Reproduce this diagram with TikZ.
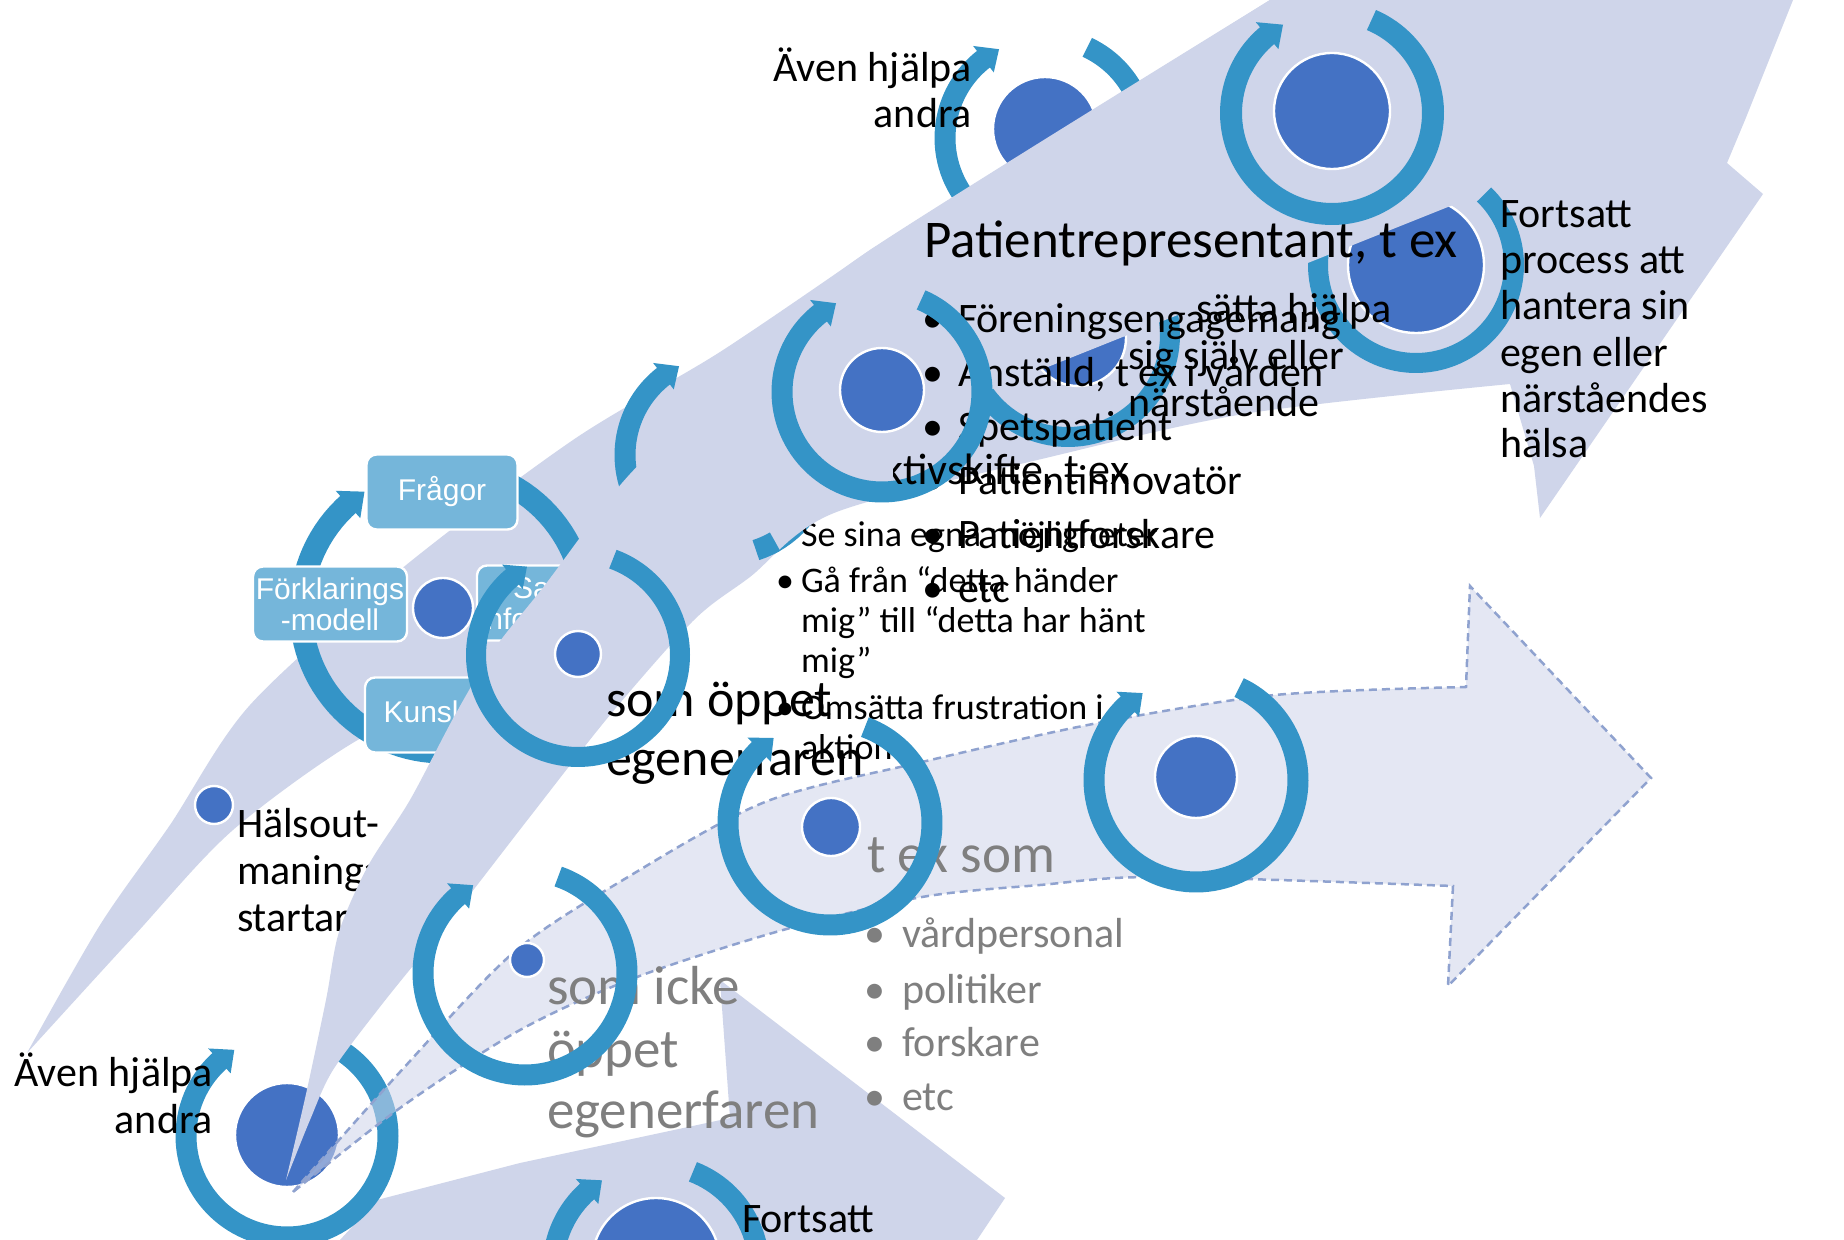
\documentclass[tikz,border=0pt]{standalone}
\usepackage{fontspec}
\setmainfont{Carlito}
\newfontfamily\arialf{Liberation Sans}
\definecolor{lav}{HTML}{CFD5EA}
\definecolor{ringc}{HTML}{3494C7}
\definecolor{circc}{HTML}{4472C4}
\definecolor{boxc}{HTML}{75B6DA}
\definecolor{dashc}{HTML}{8FA2CF}
\definecolor{grayt}{HTML}{7F7F7F}
\newcommand\szA{\fontsize{21}{25}\selectfont}
\newcommand\szB{\fontsize{26.5}{31}\selectfont}
\newcommand\szC{\fontsize{18}{21}\selectfont}
\newcommand\szD{\fontsize{27.5}{32}\selectfont}
\newcommand\szE{\fontsize{26}{30}\selectfont}
\newcommand\szH{\fontsize{22}{26}\selectfont}
% ring arc: cx cy r w phiStart phiEnd (visual angles, clockwise from start to end)
\newcommand\ringarc[6]{%
  \pgfmathsetmacro\rA{#6-360}%
  \pgfmathsetmacro\rB{#5}%
  \pgfmathsetlengthmacro\lw{#4*0.5pt}%
  \draw[ringc, line width=\lw] plot[domain=\rA:\rB, samples=100, variable=\ang] ({#1+#3*cos(\ang)},{#2-#3*sin(\ang)});
  \pgfmathsetmacro\hA{#6+1}%
  \pgfmathsetmacro\hT{#6-0.8*#4/#3*57.3}%
  \fill[ringc] ({#1+(#3+0.8*#4)*cos(\hA)},{#2-(#3+0.8*#4)*sin(\hA)}) -- ({#1+(#3-0.8*#4)*cos(\hA)},{#2-(#3-0.8*#4)*sin(\hA)}) -- ({#1+#3*cos(\hT)},{#2-#3*sin(\hT)}) -- cycle;
}
\newcommand\disc[3]{\filldraw[fill=circc, draw=white, line width=1.2pt] (#1,#2) circle[radius=#3*0.5pt];}
\begin{document}
\begin{tikzpicture}[x=0.5pt, y=-0.5pt,
  tl/.style={inner sep=0pt, outer sep=0pt, anchor=base west, font=\szA},
  tr/.style={inner sep=0pt, outer sep=0pt, anchor=base east, font=\szA},
  box/.style={draw=white, line width=1.2pt, fill=boxc, rounded corners=5pt, text=white,
    font=\arialf\fontsize{15}{15.5}\selectfont, align=center, minimum width=76pt,
    minimum height=37.5pt, inner sep=1pt}]
\useasboundingbox (0,0) rectangle (1844,1240);
\clip (0,0) rectangle (1844,1240);
\fill[white] (0,0) rectangle (1844,1240);

% bottom arrow
\fill[lav] (340,1240) -- (377,1200) -- (520,1163) -- (730,1118) -- (720,980) -- (1005,1198) -- (977,1240) -- cycle;

% bottom-left cycle
\ringarc{287}{1136}{101}{21}{58}{131}
\disc{287}{1135}{52}

% arrow A
\fill[lav] plot[smooth, tension=0.5] coordinates {(27,1053) (100,925) (170,825) (250,705) (400,570) (573,440) (720,352) (870,250)}
  -- (760,420) -- (600,560) -- (520,660) -- (470,700)
  -- plot[smooth, tension=0.5] coordinates {(470,700) (363,737) (233,830) (133,937) (27,1053)} -- cycle;

% top cycle (Även hjälpa andra)
\ringarc{1045}{138}{100}{21}{65}{127}
\disc{1045}{129}{52}

% left cycle with boxes
\ringarc{443}{610}{142}{23}{80}{131}
\disc{443}{608}{30}
\node[box, minimum width=75.5pt] (frag) at (442,492) {Frågor};
\node[box, minimum width=77pt] (fork) at (330,604) {Förklarings\\-modell};
\node[box, minimum width=77pt] (sakl) at (554,603) {Saklig\\information};
\node[box, minimum width=77pt] (kuns) at (442,715) {Kunskap};

% middle ring (mostly hidden)
\ringarc{725}{455}{100}{21}{67}{127}

% Hälsoutmaning
\disc{214}{805}{19}
\node[tl] (h1) at (237,838) {Hälsout-};
\node[tl] (h2) at (237,885) {maningar};
\node[tl] (h3) at (237,932) {startar};

\node[tl, font=\szC] (mb0) at (776,547) {•};
\node[tl, font=\szC] (m0) at (801,547) {Se sina egna möjligheter};

% arrow B
\fill[lav] plot[smooth, tension=0.5] coordinates {(286,1180) (310,1120) (333,1070) (383,1003) (450,920) (529,818) (610,715) (694,620) (750,577) (834,513) (1050,457) (1250,413) (1510,384)}
  -- (1534,466) -- (1540,518) -- (1763,194) -- (1727,163) -- (1745,120) -- (1793,0) -- (1270,0)
  -- plot[smooth, tension=0.5] coordinates {(1270,0) (870,250) (785,327) (700,405) (622,483) (545,585) (495,648) (455,715) (410,800) (368,866) (339,932) (326,1000) (306,1094) (286,1180)} -- cycle;

% sliver of middle ring
\draw[ringc, line width=10.5pt] plot[domain=-72:-60, samples=10, variable=\ang] ({725+100*cos(\ang)},{455-100*sin(\ang)});

% hidden-ish cycles
\ringarc{1068}{335}{102}{20}{60}{120}
\disc{1078}{338}{48}
\ringarc{1416}{265}{98}{20}{46}{130}
\disc{1416}{265}{68}

% cover shape
\fill[lav] (860,442) -- (1478,195) -- (1500,120) -- (1400,0) -- (1270,0) -- (870,250) -- cycle;

\node[tl] (s1) at (1196,323) {sätta hjälpa};
\node[tl] (s2) at (1128,370) {sig själv eller};
\node[tl] (s3) at (1128,417) {närstående};

% dashed arrow
\filldraw[fill=lav, fill opacity=0.55, draw=dashc, line width=1.25pt, dash pattern=on 4pt off 2.5pt]
  plot[smooth, tension=0.5] coordinates {(293,1192) (400,1072) (513,953) (623,880) (765,802) (922,762) (1098,723) (1275,695) (1466,687)}
  -- (1470,586) -- (1651,778) -- (1448,986) -- (1453,886)
  -- plot[smooth, tension=0.5] coordinates {(1453,886) (1157,877) (1040,885) (922,897) (783,930) (637,977) (520,1030) (400,1108) (293,1192)} -- cycle;

% grey labels
\node[tl, font=\szD, text=grayt] (g1) at (547,1005) {som icke};
\node[tl, font=\szD, text=grayt] (g2) at (547,1067) {öppet};
\node[tl, font=\szD, text=grayt] (g3) at (547,1128) {egenerfaren};
\node[tl, font=\szD, text=grayt] (g4) at (867,873) {t ex som};
\node[tl, text=grayt] (gb1) at (864,948) {•};
\node[tl, text=grayt] (gt1) at (902,948) {vårdpersonal};
\node[tl, text=grayt] (gb2) at (864,1003) {•};
\node[tl, text=grayt] (gt2) at (902,1003) {politiker};
\node[tl, text=grayt] (gb3) at (864,1057) {•};
\node[tl, text=grayt] (gt3) at (902,1057) {forskare};
\node[tl, text=grayt] (gb4) at (864,1110) {•};
\node[tl, text=grayt] (gt4) at (902,1110) {etc};

% patient representative text
\node[tl, font=\szB] (ph) at (924,258) {Patientrepresentant, t ex};
\node[tl] (pb1) at (922,333) {•};
\node[tl] (pt1) at (958,333) {Föreningsengagemang};
\node[tl] (pb2) at (922,387) {•};
\node[tl] (pt2) at (958,387) {Anställd, t ex i vården};
\node[tl] (pb3) at (922,441) {•};
\node[tl] (pt3) at (958,441) {Spetspatient};
\node[tl] (pb4) at (922,495) {•};
\node[tl] (pt4) at (958,495) {Patientinnovatör};
\node[tl] (pb5) at (922,549) {•};
\node[tl] (pt5) at (958,549) {Patientforskare};
\node[tl] (pb6) at (922,603) {•};
\node[tl] (pt6) at (958,603) {etc};

% R4, R2
\ringarc{882}{392}{100}{21}{67}{127}
\disc{882}{390}{42}
\ringarc{1332}{113}{101}{22}{67}{129}
\disc{1332}{111}{58}

% perspective text
\begin{scope}
  \clip (893,420) rectangle (1200,500);
  \node[inner sep=0pt, outer sep=0pt, anchor=base east, font=\szH] (mh) at (1129,485) {Perspektivskifte, t ex};
\end{scope}
\node[tl, font=\szC] (mb1) at (776,593) {•};
\node[tl, font=\szC] (m1) at (801,593) {Gå från “detta händer};
\node[tl, font=\szC] (m2) at (801,633) {mig” till “detta har hänt};
\node[tl, font=\szC] (m3) at (801,673) {mig”};
\node[tl, font=\szC] (mb4) at (776,720) {•};
\node[tl, font=\szC] (m4) at (801,720) {Omsätta frustration i};
\node[tl, font=\szC] (m5) at (801,760) {aktion};

\node[tl, font=\szE] (o1) at (606,717) {som öppet};
\node[tl, font=\szE] (o2) at (606,776) {egenerfaren};

% front cycles
\ringarc{578}{655}{102}{20}{70}{129}
\disc{578}{654}{23}
\ringarc{525}{973}{102}{21}{71}{130}
\disc{527}{960}{17}
\ringarc{830}{823}{102}{21}{70}{133}
\disc{831}{827}{29}
\ringarc{1196}{780}{102}{21}{65}{131}
\disc{1196}{777}{41}
\ringarc{656}{1268}{103}{21}{69}{131}
\disc{656}{1262}{64}
\node[tl] (f0) at (742,1232) {Fortsatt};

% labels on top
\node[tl] (f1) at (1500,228) {Fortsatt};
\node[tl] (f2) at (1500,274) {process att};
\node[tl] (f3) at (1500,320) {hantera sin};
\node[tl] (f4) at (1500,367) {egen eller};
\node[tl] (f5) at (1500,413) {närståendes};
\node[tl] (f6) at (1500,458) {hälsa};
\node[tr] (a1) at (972,82) {Även hjälpa};
\node[tr] (a2) at (972,128) {andra};
\node[tr] (b1) at (213,1087) {Även hjälpa};
\node[tr] (b2) at (213,1133) {andra};
\end{tikzpicture}
\end{document}
